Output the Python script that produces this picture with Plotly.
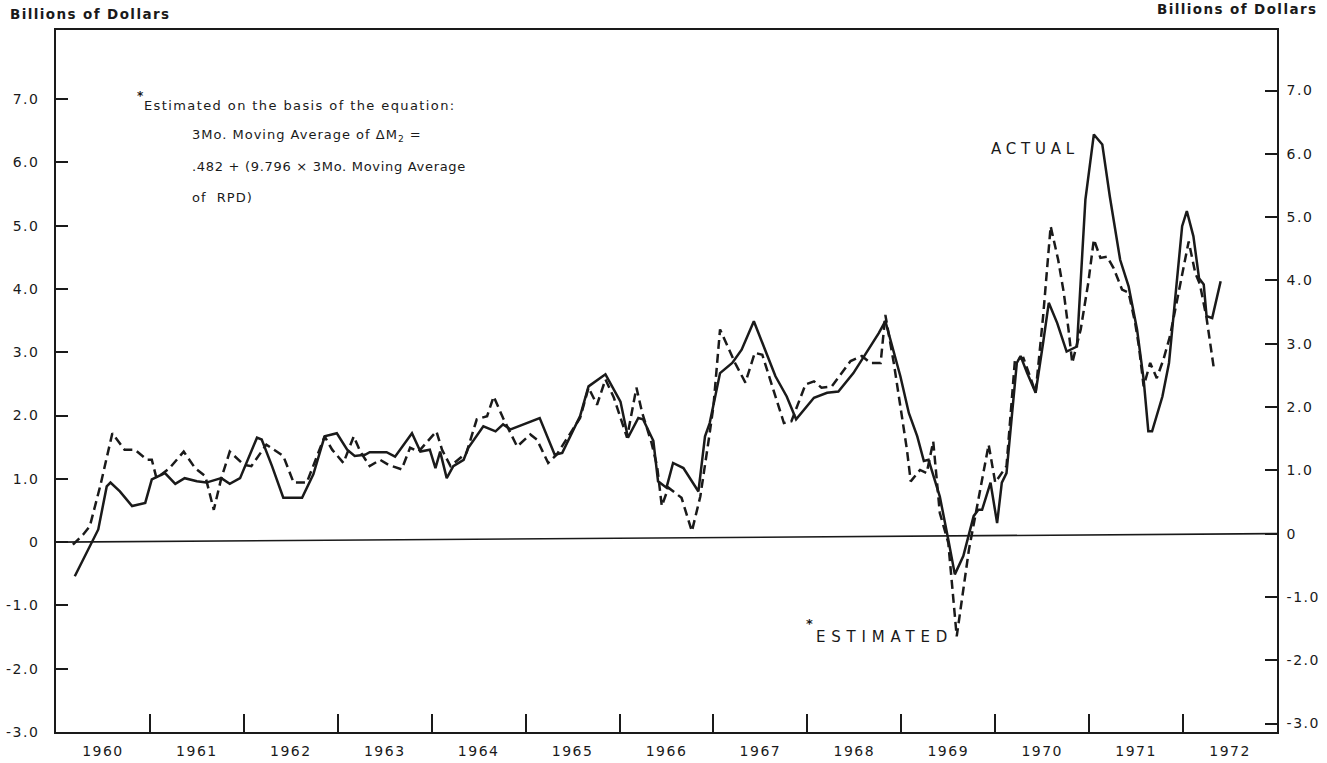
import plotly.graph_objects as go

# ---- data (decimal years, billions of dollars) ----
actual_x = [1960.20, 1960.40, 1960.45, 1960.54, 1960.58, 1960.68, 1960.81, 1960.95, 1961.02, 1961.16,
            1961.27, 1961.37, 1961.50, 1961.60, 1961.76, 1961.85, 1961.96, 1962.14, 1962.19, 1962.30,
            1962.42, 1962.62, 1962.74, 1962.86, 1962.99, 1963.10, 1963.18, 1963.29, 1963.34, 1963.52,
            1963.61, 1963.79, 1963.88, 1963.98, 1964.04, 1964.09, 1964.16, 1964.23, 1964.34, 1964.39,
            1964.55, 1964.68, 1964.76, 1964.84, 1965.15, 1965.31, 1965.39, 1965.58, 1965.67, 1965.85,
            1966.01, 1966.09, 1966.20, 1966.25, 1966.36, 1966.41, 1966.50, 1966.57, 1966.68, 1966.84,
            1966.91, 1966.96, 1967.07, 1967.20, 1967.30, 1967.43, 1967.66, 1967.78, 1967.88, 1968.07,
            1968.21, 1968.33, 1968.49, 1968.76, 1968.83, 1968.99, 1969.08, 1969.17, 1969.24, 1969.29,
            1969.41, 1969.50, 1969.57, 1969.66, 1969.77, 1969.82, 1969.86, 1969.95, 1970.02, 1970.07,
            1970.12, 1970.23, 1970.27, 1970.34, 1970.43, 1970.51, 1970.57, 1970.66, 1970.76, 1970.87,
            1970.96, 1971.05, 1971.14, 1971.22, 1971.33, 1971.42, 1971.51, 1971.58, 1971.63, 1971.67,
            1971.78, 1971.85, 1971.99, 1972.04, 1972.11, 1972.17, 1972.22, 1972.25, 1972.31, 1972.40]
actual_y = [-0.54, 0.04, 0.20, 0.88, 0.94, 0.80, 0.57, 0.62, 0.99, 1.09,
            0.92, 1.01, 0.96, 0.94, 1.01, 0.92, 1.01, 1.65, 1.62, 1.20,
            0.70, 0.70, 1.07, 1.67, 1.72, 1.46, 1.36, 1.38, 1.42, 1.42,
            1.35, 1.72, 1.43, 1.46, 1.17, 1.43, 1.01, 1.20, 1.30, 1.49,
            1.83, 1.75, 1.86, 1.78, 1.96, 1.38, 1.41, 1.99, 2.46, 2.65,
            2.22, 1.65, 1.96, 1.94, 1.60, 0.96, 0.86, 1.25, 1.17, 0.80,
            1.67, 1.88, 2.67, 2.83, 3.04, 3.49, 2.62, 2.30, 1.94, 2.28,
            2.36, 2.38, 2.67, 3.30, 3.49, 2.62, 2.04, 1.67, 1.28, 1.30,
            0.72, 0.04, -0.51, -0.22, 0.41, 0.51, 0.51, 0.94, 0.30, 0.94,
            1.09, 2.83, 2.94, 2.67, 2.36, 3.15, 3.78, 3.46, 3.01, 3.09,
            5.41, 6.44, 6.28, 5.46, 4.46, 4.04, 3.36, 2.57, 1.75, 1.75,
            2.30, 2.83, 4.99, 5.23, 4.83, 4.17, 4.07, 3.57, 3.54, 4.12]

estimated_x = [1960.18, 1960.29, 1960.36, 1960.47, 1960.60, 1960.73, 1960.84, 1960.97, 1961.02, 1961.07,
               1961.21, 1961.36, 1961.48, 1961.59, 1961.68, 1961.76, 1961.85, 1962.00, 1962.08, 1962.24,
               1962.42, 1962.53, 1962.67, 1962.86, 1962.94, 1963.06, 1963.17, 1963.24, 1963.34, 1963.45,
               1963.54, 1963.68, 1963.77, 1963.86, 1964.05, 1964.11, 1964.20, 1964.37, 1964.48, 1964.59,
               1964.66, 1964.76, 1964.91, 1965.05, 1965.12, 1965.24, 1965.33, 1965.58, 1965.67, 1965.76,
               1965.85, 1965.94, 1966.08, 1966.18, 1966.24, 1966.34, 1966.40, 1966.45, 1966.52, 1966.66,
               1966.77, 1966.86, 1966.95, 1967.00, 1967.07, 1967.23, 1967.34, 1967.44, 1967.52, 1967.75,
               1967.83, 1967.98, 1968.07, 1968.15, 1968.26, 1968.46, 1968.58, 1968.67, 1968.78, 1968.83,
               1968.92, 1969.06, 1969.10, 1969.20, 1969.27, 1969.34, 1969.41, 1969.50, 1969.59, 1969.72,
               1969.80, 1969.93, 1970.00, 1970.12, 1970.21, 1970.30, 1970.37, 1970.43, 1970.51, 1970.59,
               1970.67, 1970.73, 1970.78, 1970.82, 1970.91, 1970.99, 1971.05, 1971.12, 1971.19, 1971.26,
               1971.35, 1971.42, 1971.49, 1971.53, 1971.58, 1971.65, 1971.72, 1971.79, 1971.86, 1971.95,
               1972.06, 1972.13, 1972.18, 1972.25, 1972.33]
estimated_y = [-0.04, 0.12, 0.25, 0.88, 1.72, 1.46, 1.46, 1.30, 1.30, 1.01,
               1.17, 1.43, 1.17, 1.04, 0.51, 1.01, 1.43, 1.22, 1.20, 1.54,
               1.36, 0.94, 0.94, 1.67, 1.46, 1.25, 1.67, 1.43, 1.20, 1.30,
               1.22, 1.15, 1.49, 1.43, 1.75, 1.46, 1.20, 1.41, 1.94, 1.99,
               2.30, 1.96, 1.51, 1.70, 1.62, 1.25, 1.38, 1.96, 2.44, 2.17,
               2.57, 2.28, 1.65, 2.44, 2.05, 1.57, 1.20, 0.57, 0.86, 0.70,
               0.17, 0.72, 1.62, 2.15, 3.36, 2.83, 2.52, 2.99, 2.96, 1.88,
               1.91, 2.49, 2.54, 2.44, 2.46, 2.86, 2.94, 2.83, 2.83, 3.59,
               2.83, 1.46, 0.96, 1.14, 1.09, 1.59, 0.46, -0.01, -1.49, -0.12,
               0.51, 1.54, 0.94, 1.20, 2.88, 2.91, 2.62, 2.36, 3.57, 4.99,
               4.46, 3.94, 3.36, 2.83, 3.36, 4.09, 4.78, 4.49, 4.51, 4.33,
               3.99, 3.94, 3.46, 3.09, 2.46, 2.83, 2.59, 2.88, 3.25, 3.94,
               4.75, 4.25, 4.07, 3.54, 2.72]

year_labels = ["1960", "1961", "1962", "1963", "1964", "1965", "1966",
               "1967", "1968", "1969", "1970", "1971", "1972"]
year_label_pos = [1960.5 + i for i in range(len(year_labels))]
year_boundaries = [1961 + i for i in range(12)]

y_tick_values = [-3, -2, -1, 0, 1, 2, 3, 4, 5, 6, 7]
y_tick_labels = ["-3.0", "-2.0", "-1.0", "0", "1.0", "2.0", "3.0", "4.0", "5.0", "6.0", "7.0"]

# ---- styling ----
FONT = "DejaVu Sans"
INK = "#1a1a1a"
Y_RANGE = [-3.0, 8.09]
TILT = 0.134  # scan tilt of the original: right edge sits slightly higher
Y2_RANGE = [Y_RANGE[0] - TILT, Y_RANGE[1] - TILT]

ML, MR, MT, MB = 56, 50, 30, 31
W, H = 1327, 763
PW, PH = W - ML - MR, H - MT - MB


def spaced(txt, px):
    return '<span style="letter-spacing:%spx">%s</span>' % (px, txt)


fig = go.Figure()
fig.add_trace(go.Scatter(x=estimated_x, y=estimated_y, mode="lines", name="Estimated",
                         line=dict(color=INK, width=2.5, dash="9px,5px"), showlegend=False))
fig.add_trace(go.Scatter(x=actual_x, y=actual_y, mode="lines", name="Actual",
                         line=dict(color=INK, width=2.5), showlegend=False))
fig.add_trace(go.Scatter(x=[None], y=[None], yaxis="y2", showlegend=False, hoverinfo="skip"))

# zero line (slightly tilted like the scanned original)
fig.add_shape(type="line", xref="x", yref="y", x0=1960, x1=1973, y0=0, y1=TILT,
              line=dict(color=INK, width=1.6))

ann = []


def label(text, px, py, size=13, anchor="left", sp=0):
    ann.append(dict(text=spaced(text, sp) if sp else text,
                    x=(px - ML) / PW, y=(H - MB - py) / PH, xref="paper", yref="paper",
                    xanchor=anchor, yanchor="middle", showarrow=False,
                    font=dict(family=FONT, size=size, color=INK)))


label("<b>Billions of Dollars</b>", 8, 14, size=13.5, sp=1.4)
label("<b>Billions of Dollars</b>", 1319, 9, size=13.5, anchor="right", sp=1.4)
label("<b>*</b>", 135, 96, size=12)
label("Estimated on the basis of the equation:", 142, 106, size=13, sp=1.4)
label("3Mo. Moving Average of \u0394M<sub>2</sub> =", 190, 136, size=13, sp=1)
label(".482 + (9.796 \u00d7 3Mo. Moving Average", 190, 166, size=13, sp=0.7)
label("of  RPD)", 190, 197, size=13, sp=1)
label("ACTUAL", 989, 149, size=15, sp=4.8)
label("<b>*</b>", 804, 623, size=13)
label("ESTIMATED", 814, 637, size=15, sp=5.8)

fig.update_layout(
    width=W, height=H,
    margin=dict(l=ML, r=MR, t=MT, b=MB, autoexpand=False),
    paper_bgcolor="white", plot_bgcolor="white",
    font=dict(family=FONT, color=INK),
    annotations=ann,
    xaxis=dict(range=[1960, 1973], showgrid=False, zeroline=False, automargin=False,
               showline=True, linecolor=INK, linewidth=1.6, mirror=True,
               tickmode="array", tickvals=year_label_pos,
               ticktext=[spaced(t, 1.5) for t in year_labels],
               ticks="", tickfont=dict(family=FONT, size=14, color=INK),
               ticklabelstandoff=5,
               minor=dict(tickmode="array", tickvals=year_boundaries, ticks="inside",
                          ticklen=18, tickwidth=1.6, tickcolor=INK, showgrid=False)),
    yaxis=dict(range=Y_RANGE, showgrid=False, zeroline=False, automargin=False,
               showline=True, linecolor=INK, linewidth=1.6,
               tickmode="array", tickvals=y_tick_values,
               ticktext=[spaced(t, 1.5) for t in y_tick_labels],
               ticks="inside", ticklen=12, tickwidth=1.6, tickcolor=INK,
               tickfont=dict(family=FONT, size=14, color=INK), ticklabelstandoff=12),
    yaxis2=dict(range=Y2_RANGE, overlaying="y", side="right", showgrid=False, zeroline=False,
                automargin=False,
                showline=True, linecolor=INK, linewidth=1.6,
                tickmode="array", tickvals=y_tick_values,
                ticktext=[spaced(t, 1.5) for t in y_tick_labels],
                ticks="inside", ticklen=12, tickwidth=1.6, tickcolor=INK,
                tickfont=dict(family=FONT, size=14, color=INK), ticklabelstandoff=5),
)

fig.write_html("out.html", config={"displayModeBar": False},
               post_script="document.body.style.margin='0px';")
